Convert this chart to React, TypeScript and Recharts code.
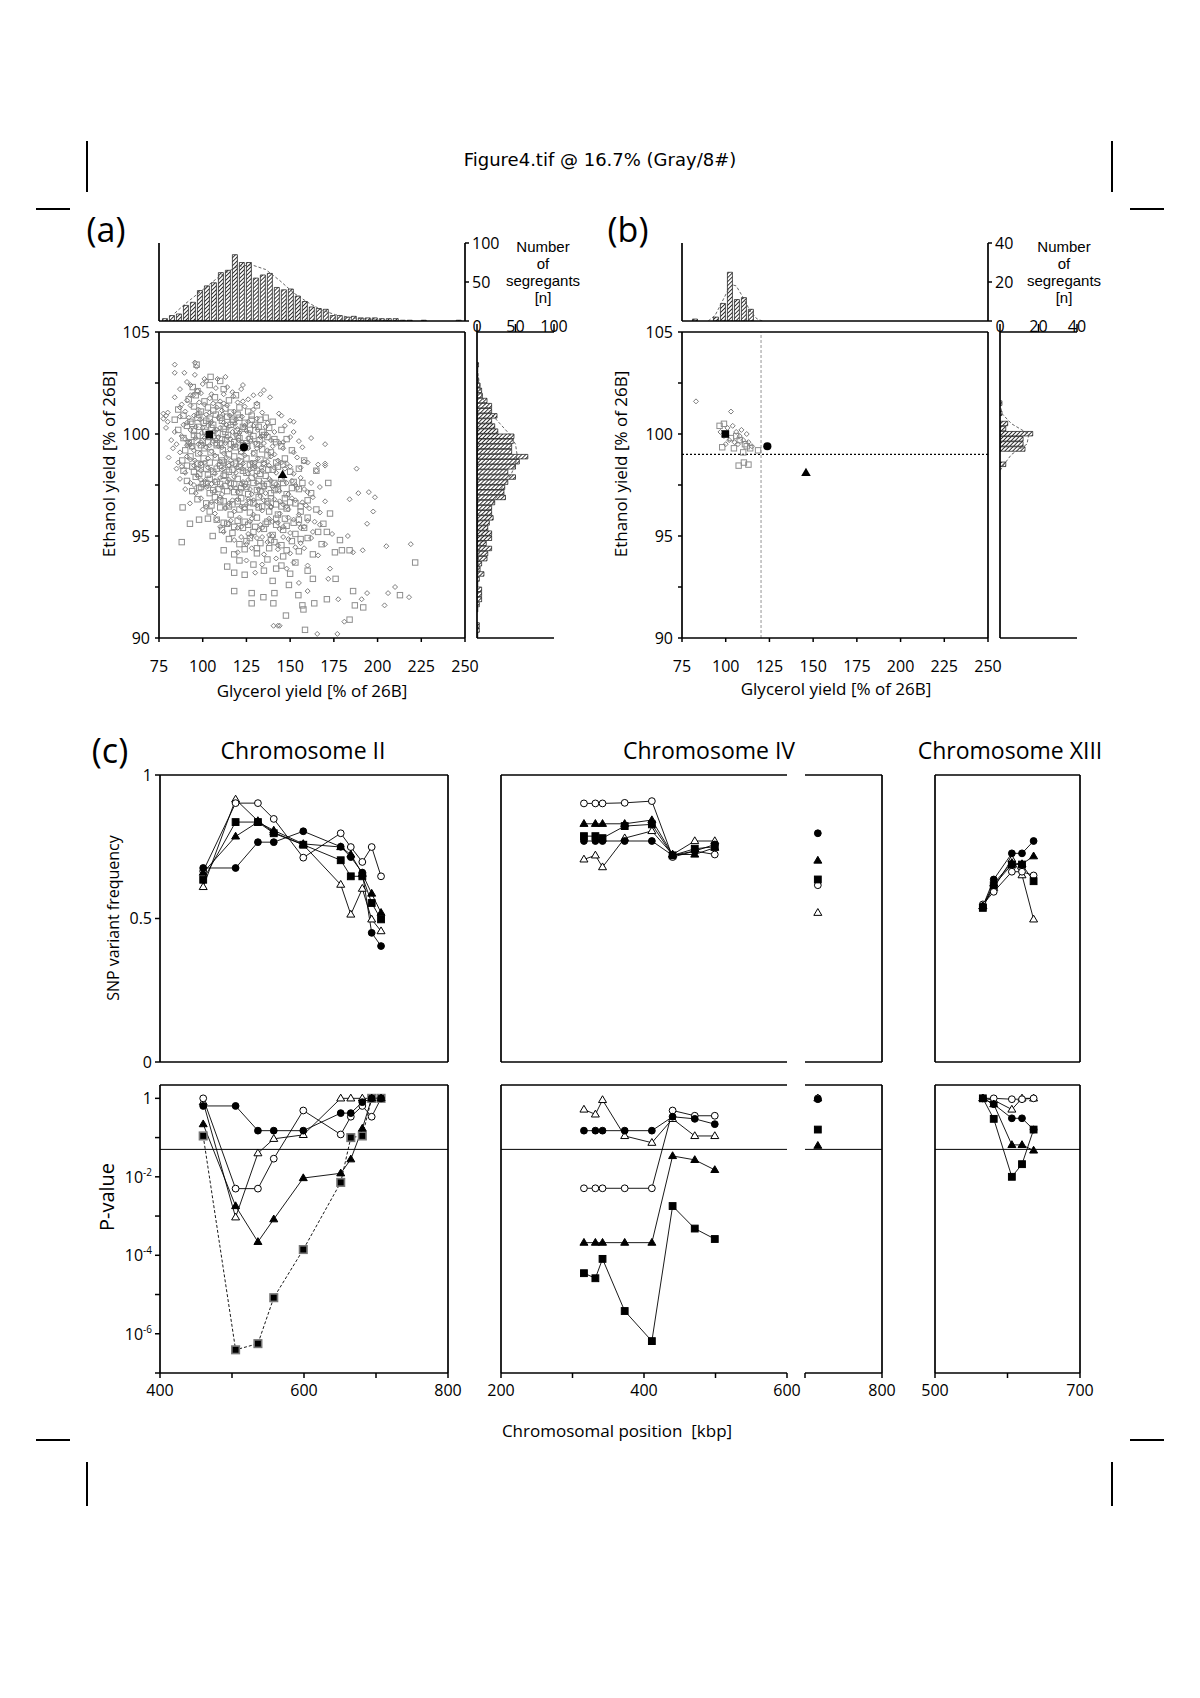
import React from 'react';
import { ComposedChart, Bar, Line, Scatter, XAxis, YAxis, ReferenceLine } from 'recharts';

const FONT = '"Open Sans", "Noto Sans", sans-serif';
const AX = 30;
const LINE = { stroke: '#000', strokeWidth: 1.7 };
const TICKLINE = { stroke: '#000', strokeWidth: 1.5 };

// ---------------- panel (a) / (b) data ----------------
const G_TICKS = [75, 100, 125, 150, 175, 200, 225, 250];
const E_TICKS = [90, 92.5, 95, 97.5, 100, 102.5, 105];

const TOP_A_BINS = [78.4, 82.4, 86.4, 90.4, 94.4, 98.4, 102.4, 106.4, 110.4, 114.4, 118.4, 122.4, 126.4, 130.4, 134.4, 138.4, 142.4, 146.4, 150.4, 154.4, 158.4, 162.4, 166.4, 170.4, 174.4, 178.4, 182.4, 186.4, 190.4, 194.4, 198.4, 202.4, 206.4, 210.4, 214.4, 218.4, 222.4, 226.4, 230.4, 234.4, 238.4, 242.4, 246.4];
const TOP_A_COUNTS = [3, 7, 9, 20, 24, 39, 45, 49, 62, 65, 85, 75, 75, 55, 59, 61, 43, 40, 41, 32, 25, 18, 16, 15, 7, 7, 5, 6, 4, 4, 4, 3, 3, 3, 1, 1, 0, 1, 0, 0, 0, 0, 1];
const TOP_A_FIT_G = [84, 90, 100, 110, 120, 128, 136, 144, 152, 160, 168, 176, 186, 200, 215];
const TOP_A_FIT_N = [10, 22, 40, 58, 70, 72, 66, 52, 36, 24, 14, 8, 4, 1, 0];

const RIGHT_A_BINS = [103.375, 103.125, 102.875, 102.625, 102.375, 102.125, 101.875, 101.625, 101.375, 101.125, 100.875, 100.625, 100.375, 100.125, 99.875, 99.625, 99.375, 99.125, 98.875, 98.625, 98.375, 98.125, 97.875, 97.625, 97.375, 97.125, 96.875, 96.625, 96.375, 96.125, 95.875, 95.625, 95.375, 95.125, 94.875, 94.625, 94.375, 94.125, 93.875, 93.625, 93.375, 93.125, 92.875, 92.625, 92.375, 92.125, 91.875, 91.625, 91.375, 91.125, 90.875, 90.625, 90.375, 90.125];
const RIGHT_A_COUNTS = [2, 1, 1, 2, 4, 6, 7, 13, 19, 19, 26, 19, 23, 27, 48, 47, 45, 45, 66, 55, 50, 40, 50, 40, 36, 35, 37, 23, 19, 19, 21, 16, 14, 19, 19, 12, 19, 14, 13, 6, 4, 9, 3, 1, 6, 6, 6, 3, 1, 0, 0, 3, 3, 1];
const RIGHT_A_FIT_E = [103, 102, 101.5, 101, 100.5, 100, 99.5, 99, 98.5, 98, 97.5, 97, 96.5, 96, 95, 94, 93];
const RIGHT_A_FIT_N = [1, 5, 10, 18, 30, 42, 50, 52, 50, 44, 35, 27, 18, 12, 6, 2, 1];

const TOP_B_BINS = [82.4, 86.4, 90.4, 94.4, 98.4, 102.4, 106.4, 110.4, 114.4, 118.4];
const TOP_B_COUNTS = [1, 0, 0, 2, 9, 25, 11, 12, 6, 0];
const TOP_B_FIT_G = [90, 94, 98, 102, 104, 106, 110, 114, 118, 121];
const TOP_B_FIT_N = [0, 3, 10, 17, 18.5, 18, 12, 5, 1, 0];

const RIGHT_B_BINS = [101.5, 101.0, 100.5, 100.25, 100.0, 99.75, 99.5, 99.25, 98.5];
const RIGHT_B_COUNTS = [1, 1, 4, 3, 17, 12, 12, 13, 3];
const RIGHT_B_FIT_E = [101.5, 101, 100.5, 100, 99.5, 99, 98.5, 98.2];
const RIGHT_B_FIT_N = [0, 1, 6, 15, 14, 6, 2, 0];

// scatter (a): glycerol / ethanol yields of segregants
const SCAT_A_DIAMONDS = [
  [84, 103.4], [95.5, 103.5], [96.5, 103.3], [84, 103.0], [89.5, 103.0],
  [102, 102.6], [108.5, 102.7], [113, 102.8], [95.5, 102.9], [91, 102.55],
  [87, 102.2], [93, 102.4], [97, 102.1], [100, 102.45], [107.5, 102.25], [114, 102.3], [117, 102.05], [122, 102.2], [123, 102.4], [133, 101.95], [135, 102.15],
  [84, 101.8], [91, 101.65], [94.5, 101.9], [98, 101.55], [104, 101.75], [110, 101.6], [117.5, 101.85], [120, 101.55], [126, 101.7], [129, 101.9], [138.5, 101.8],
  [77.5, 101.0], [79, 100.9], [80, 101.05], [87, 101.3], [90, 101.1], [93, 101.4], [97.5, 101.2], [101, 101.45], [104, 101.05], [108, 101.3], [111, 101.15], [114, 101.4], [118, 101.1], [124, 101.35], [129, 101.2], [134, 101.05], [143.6, 101.0], [152, 100.6],
  [77.5, 100.75], [80, 100.6], [87, 100.85], [91, 100.55], [95, 100.9], [98.5, 100.7], [102, 100.95], [105, 100.6], [109, 100.8], [112, 100.55], [115.5, 100.9], [119, 100.7], [122.5, 100.85], [126, 100.6], [131, 100.75], [137, 100.55], [145, 100.9], [150, 100.65],
  [79, 100.3], [84, 100.1], [89, 100.45], [93, 100.2], [96, 100.35], [99.5, 100.05], [103, 100.4], [106.5, 100.15], [110, 100.3], [113.5, 100.45], [117, 100.1], [120, 100.25], [124, 100.4], [127, 100.05], [131.5, 100.2], [136, 100.35], [141, 100.1], [147, 100.4], [152, 100.1],
  [82, 99.7], [88, 99.9], [92, 99.55], [96, 99.8], [99, 99.6], [102, 99.95], [106, 99.65], [109, 99.85], [113, 99.55], [116, 99.75], [119, 99.95], [122.5, 99.6], [126, 99.8], [130, 99.55], [134, 99.9], [139, 99.7], [144, 99.55], [150, 99.85], [155, 99.65], [162, 99.8], [170, 99.5],
  [83, 99.3], [87, 99.1], [91, 99.45], [95, 99.2], [98.5, 99.05], [102, 99.35], [105, 99.15], [109, 99.4], [112, 99.05], [115.5, 99.25], [119, 99.45], [122, 99.1], [126, 99.3], [129, 99.05], [133, 99.4], [137, 99.2], [141, 99.0], [146, 99.3], [152, 99.1], [157, 99.35],
  [80.5, 98.85], [86, 98.6], [91, 98.9], [95.5, 98.7], [99, 98.55], [103, 98.8], [107, 98.95], [110, 98.65], [113.5, 98.85], [117, 98.55], [120.5, 98.75], [124, 98.95], [128, 98.6], [131.5, 98.8], [135, 98.55], [139, 98.9], [143, 98.7], [148, 98.55], [154, 98.85], [158, 98.65], [166, 98.5], [170, 98.55],
  [85, 98.3], [90, 98.1], [95, 98.45], [99, 98.2], [103, 98.35], [107, 98.05], [111, 98.25], [115, 98.45], [119, 98.1], [122.5, 98.3], [126, 98.05], [130, 98.4], [134, 98.2], [138, 98.45], [142, 98.1], [147, 98.3], [152, 98.05], [156, 98.35], [165, 98.2], [170, 98.45], [188, 98.3],
  [87, 97.8], [93, 97.6], [97, 97.95], [101, 97.7], [105, 97.55], [110, 97.85], [114, 97.65], [118, 97.9], [122, 97.55], [126, 97.75], [130, 97.95], [134, 97.6], [138, 97.8], [142, 97.55], [146, 97.9], [151, 97.7], [156, 97.85], [162, 97.6],
  [90, 97.3], [96, 97.1], [102, 97.4], [107, 97.2], [111, 97.05], [116, 97.35], [120, 97.15], [124, 97.45], [128, 97.05], [132, 97.3], [136, 97.1], [140, 97.4], [144, 97.2], [149, 97.05], [154, 97.35], [160, 97.15], [167, 97.4], [189, 97.1], [195, 97.15],
  [92.7, 96.6], [99, 96.85], [105, 96.65], [110, 96.9], [115, 96.6], [120, 96.8], [125, 96.55], [129, 96.75], [133, 96.95], [137, 96.6], [141, 96.8], [146, 96.55], [151, 96.85], [157, 96.65], [163, 96.9], [170, 96.7], [184, 96.8], [198.5, 96.9],
  [100, 96.3], [107, 96.1], [113, 96.4], [118, 96.2], [124, 96.35], [129, 96.05], [134, 96.25], [139, 96.45], [144, 96.1], [149, 96.3], [155, 96.05], [161, 96.35], [167, 96.15], [197.5, 96.2],
  [108, 95.8], [115, 95.6], [121, 95.9], [127, 95.7], [133, 95.55], [138, 95.85], [143, 95.65], [149, 95.9], [155, 95.6], [160, 95.75], [167, 95.55], [194, 95.6],
  [112, 95.2], [120, 95.4], [126, 95.1], [132, 95.3], [138, 95.05], [144, 95.35], [150, 95.15], [156, 95.4], [163, 95.2], [174, 95.1], [183, 95.0],
  [118, 94.8], [125, 94.6], [131, 94.9], [137, 94.7], [143, 94.55], [149, 94.85], [156, 94.65], [162, 94.9], [170, 94.6], [205, 94.5], [219, 94.6],
  [120, 94.2], [128, 94.4], [135, 94.1], [143, 94.35], [150, 94.15], [158, 94.4], [166, 94.05], [186, 94.2], [191.5, 94.3],
  [125, 93.8], [134, 93.6], [142, 93.9], [152, 93.7], [160, 93.55],
  [130, 93.2], [148, 93.4], [172.8, 93.4], [171.8, 92.9],
  [155, 92.7], [210, 92.5],
  [160, 92.3], [194, 92.2], [206, 92.2], [218, 92.0],
  [190.9, 91.9], [204, 91.6], [177.5, 91.9],
  [140.5, 90.6], [143, 90.6], [144, 90.6], [181, 90.8],
  [165.5, 90.2], [177, 90.2],
  // denser core
  [92, 100.8], [97, 101.0], [100, 100.3], [104.5, 100.55], [108, 100.2], [111.5, 100.95], [115, 100.35], [118.5, 100.5], [121, 100.05], [125, 100.15], [129, 100.4], [133, 99.85], [136.5, 100.0],
  [85, 99.5], [90, 99.75], [94, 99.35], [97.5, 99.5], [101, 99.8], [104, 99.45], [107.5, 99.7], [111, 99.35], [114, 99.85], [117.5, 99.4], [120.5, 99.7], [124, 99.25], [127.5, 99.65], [131, 99.3], [135, 99.55], [140, 99.4], [146, 99.6],
  [88, 98.4], [93, 98.75], [97, 98.3], [101, 98.6], [105, 98.25], [109, 98.5], [112, 98.3], [116, 98.7], [119.5, 98.35], [123, 98.55], [127, 98.25], [130, 98.6], [133.5, 98.35], [137, 98.65], [141, 98.35], [145, 98.6], [150, 98.4], [160, 98.6],
  [95, 97.5], [99, 97.75], [103, 97.45], [107, 97.7], [111, 97.4], [115, 97.75], [119, 97.35], [123, 97.65], [127, 97.3], [131, 97.6], [135, 97.35], [139, 97.7], [143, 97.45], [148, 97.6], [153, 97.5], [158, 97.3],
  [102, 96.45], [108, 96.7], [113, 96.35], [117, 96.75], [122, 96.45], [126, 96.8], [131, 96.5], [135, 96.75], [139, 96.4], [144, 96.7], [148, 96.45], [153, 96.75], [159, 96.5],
  [110, 95.45], [116, 95.75], [122, 95.45], [128, 95.85], [134, 95.4], [140, 95.7], [146, 95.45], [152, 95.8], [158, 95.45], [164, 95.7],
  [122, 94.95], [128, 95.0], [134, 94.95], [140, 95.0], [146, 94.95], [153, 94.45],
  [93, 101.9], [99, 102.0], [105, 101.95], [112, 101.95], [101, 102.7], [88, 101.45], [106, 101.5], [112, 101.5], [123, 101.6], [131, 101.5],
];
const SCAT_A_SQUARES = [
  [96.5, 103.4],
  [104.5, 102.8], [110, 102.6],
  [94.3, 102.3], [97, 102.1], [104, 102.4], [112, 102.2],
  [92, 101.7], [96, 101.9], [101, 101.6], [107, 101.8], [115, 101.65], [119, 101.9],
  [86, 101.2], [95, 101.35], [99, 101.1], [103, 101.3], [106, 101.15], [109, 101.4], [113, 101.25], [116, 101.05], [121, 101.3], [126, 101.1], [131, 101.4],
  [84, 100.7], [89, 100.9], [93, 100.6], [97, 100.8], [100.5, 100.55], [104, 100.75], [107.5, 100.95], [111, 100.65], [114, 100.85], [117.5, 100.6], [121, 100.8], [124, 100.55], [128, 100.9], [133, 100.7], [140, 100.6],
  [86, 100.2], [91, 100.4], [95, 100.15], [98, 100.35], [101.5, 100.1], [105, 100.3], [108.5, 100.05], [112, 100.25], [116, 100.45], [119.5, 100.15], [123, 100.35], [127, 100.2], [130, 100.45], [134, 100.1], [138, 100.3], [145, 100.2],
  [89, 99.8], [93.5, 99.6], [97, 99.9], [100, 99.65], [104, 99.85], [108, 99.55], [111, 99.75], [114.5, 99.95], [118, 99.6], [121, 99.8], [125, 99.55], [129, 99.9], [132.5, 99.7], [137, 99.85], [142, 99.6], [148, 99.75],
  [90, 99.2], [94, 99.4], [97.5, 99.05], [101, 99.3], [104.5, 99.1], [108, 99.45], [111.5, 99.2], [115, 99.0], [118.5, 99.35], [122, 99.15], [125.5, 99.4], [129.5, 99.05], [134, 99.25], [139, 99.1], [145, 99.4], [151, 99.2],
  [88.3, 98.7], [93, 98.9], [97, 98.55], [100.5, 98.8], [104, 98.6], [107.5, 98.85], [111, 98.7], [114.5, 98.5], [118, 98.9], [121.5, 98.65], [125, 98.8], [129, 98.55], [133, 98.75], [137, 98.95], [142, 98.6], [147, 98.8], [158, 98.7],
  [89, 98.2], [94, 98.4], [98, 98.05], [102, 98.3], [106, 98.15], [110, 98.45], [113, 98.0], [117, 98.25], [121, 98.4], [125, 98.1], [129, 98.35], [133, 98.05], [137.5, 98.25], [143, 98.4], [150, 98.15], [165, 98.2],
  [91, 97.7], [96, 97.9], [100, 97.55], [104, 97.8], [108, 97.65], [112, 97.95], [116, 97.6], [120, 97.8], [124, 97.55], [128, 97.85], [132, 97.7], [136, 97.95], [141, 97.6], [145, 97.8], [152, 97.65], [171.8, 97.6],
  [94, 97.2], [99, 97.4], [104, 97.1], [109, 97.3], [113, 97.45], [118, 97.15], [122, 97.35], [126, 97.05], [131, 97.25], [135, 97.45], [139, 97.1], [143, 97.3], [148, 97.05], [155, 97.3], [162, 97.1],
  [97, 96.8], [102, 96.6], [107, 96.9], [112, 96.7], [117, 96.55], [122, 96.85], [127, 96.65], [132, 96.9], [137, 96.7], [142, 96.55], [147, 96.85], [153, 96.6], [160, 96.75],
  [88.5, 96.4], [104, 96.2], [110, 96.4], [116, 96.05], [121, 96.3], [127, 96.15], [132, 96.4], [138, 96.2], [143, 96.05], [148, 96.35], [156, 96.2], [165, 96.3], [172.8, 96.1],
  [92.7, 95.6], [97.9, 95.8], [103, 95.85], [108, 95.8], [114, 95.6], [120, 95.75], [126, 95.55], [131, 95.9], [137, 95.7], [142, 95.55], [147, 95.85], [152, 95.65], [160, 95.9], [169, 95.6],
  [105.7, 95.0], [111, 95.3], [117, 95.15], [123, 95.4], [129, 95.2], [135, 95.35], [140, 95.05], [146, 95.3], [153, 95.1], [158, 95.4], [166, 95.2], [171, 95.2],
  [88, 94.7], [115, 94.85], [121, 94.6], [127, 94.9], [133, 94.65], [139, 94.8], [145, 94.55], [151, 94.75], [160, 94.9], [168, 94.6], [178.5, 94.8],
  [112, 94.3], [118, 94.1], [124, 94.35], [131, 94.15], [138, 94.4], [146, 94.0], [155, 94.25], [163, 94.1], [175.6, 94.2], [179.6, 94.3], [184, 94.3],
  [114, 93.5], [121, 93.8], [129, 93.6], [137, 93.85], [145, 93.55], [153, 93.7],
  [118, 93.2], [124, 93.1], [135, 93.3], [142, 93.4], [150, 93.15], [160, 93.3],
  [140, 92.8], [149.3, 92.6], [163, 92.9], [176, 92.9],
  [118, 92.3], [128, 92.2], [134.7, 92.0], [141, 92.2], [154.7, 92.1], [171, 91.9], [186, 92.3], [212.8, 92.1], [221.5, 93.7],
  [128, 91.7], [140.4, 91.7], [157, 91.6], [163.8, 91.7], [187, 91.6], [191.8, 91.5],
  [147.6, 91.1], [157.6, 91.4], [184, 90.9],
  [158.5, 90.4],
  // denser core
  [94, 100.5], [98, 100.95], [102, 100.65], [106, 100.45], [110, 100.8], [113, 100.1], [117, 100.7], [120, 100.95], [124, 100.25], [128, 100.7], [132, 100.35], [136, 100.8],
  [92, 99.55], [95, 99.95], [99, 99.45], [103, 99.6], [106, 99.9], [110, 99.55], [113, 99.7], [116, 99.5], [120, 99.9], [123, 99.45], [127, 99.75], [131, 99.5], [135, 99.95], [141, 99.75],
  [91, 98.45], [95, 98.15], [99, 98.5], [103, 98.0], [108, 98.3], [112, 98.6], [115, 98.15], [119, 98.55], [123, 98.2], [127, 98.5], [131, 98.2], [135, 98.55], [140, 98.25], [146, 98.5], [155, 98.3],
  [98, 97.35], [102, 97.6], [106, 97.25], [110, 97.55], [114, 97.2], [118, 97.55], [121, 97.15], [125, 97.4], [129, 97.6], [133, 97.2], [137, 97.55], [141, 97.25], [146, 97.6], [151, 97.35], [157, 97.6],
  [105, 96.5], [110, 96.75], [115, 96.45], [120, 96.7], [124, 96.4], [129, 96.6], [134, 96.45], [139, 96.85], [145, 96.45], [150, 96.65], [156, 96.45],
  [112, 95.65], [118, 95.45], [124, 95.7], [130, 95.45], [136, 95.6], [142, 95.85], [148, 95.5], [155, 95.8],
  [125, 94.75], [131, 94.4], [141, 94.7], [148, 94.3], [156, 94.85],
];
const SCAT_B_DIAMONDS = [
  [83, 101.6], [103, 101.1], [97, 100.1], [101, 100.3], [104, 100.4], [106, 100.1], [108, 99.9], [110, 99.7], [112, 100.0],
  [105, 99.6], [102, 99.7], [99, 99.9], [107, 99.5], [113, 99.6], [100, 99.5], [115, 99.4], [109, 100.2],
];
const SCAT_B_SQUARES = [
  [96.5, 100.4], [99, 100.5], [98, 99.35], [104.7, 99.3], [110, 99.1], [118.5, 99.2], [112, 99.4], [107.4, 98.45],
  [110.4, 98.6], [113, 98.5], [103, 99.8], [106, 99.9], [108, 99.7], [111, 99.5], [114, 99.3],
];
// parental strains: square, circle, triangle
const PARENT_A = [[103.8, 99.97], [123.6, 99.35], [145.7, 98.0]];
const PARENT_B = [[99.8, 100.0], [123.8, 99.4], [145.9, 98.1]];
const B_CUT_GLYCEROL = 120.2;
const B_CUT_ETHANOL = 99.0;

// ---------------- panel (c) data ----------------
// series: OT open triangle, OC open circle, FS filled square, FT filled triangle, FC filled circle
const II_POS = [460, 505, 536, 558, 599, 651, 665, 681, 694, 707];
const II_FREQ_OT = [0.61, 0.915, 0.84, 0.8, 0.757, 0.618, 0.514, 0.604, 0.497, 0.456];
const II_FREQ_OC = [0.665, 0.902, 0.902, 0.847, 0.712, 0.797, 0.749, 0.697, 0.749, 0.647];
const II_FREQ_FS = [0.635, 0.836, 0.836, 0.797, 0.757, 0.703, 0.647, 0.647, 0.554, 0.497];
const II_FREQ_FT = [0.66, 0.786, 0.836, 0.807, 0.76, 0.749, 0.723, 0.656, 0.587, 0.52];
const II_FREQ_FC = [0.676, 0.676, 0.766, 0.766, 0.804, 0.75, 0.714, 0.66, 0.45, 0.404];
const II_P_OT = [0.8, 0.00093, 0.04, 0.093, 0.117, 1, 1, 1, 1, 1];
const II_P_OC = [1, 0.005, 0.005, 0.029, 0.49, 0.12, 0.34, 0.64, 0.34, 1];
const II_P_FS = [0.11, 3.9e-7, 5.6e-7, 8.3e-6, 1.4e-4, 0.0072, 0.1, 0.11, 1, 1];
const II_P_FT = [0.22, 0.0018, 0.00022, 0.00083, 0.0093, 0.0123, 0.028, 0.17, 1, 1];
const II_P_FC = [0.64, 0.64, 0.15, 0.15, 0.15, 0.42, 0.42, 0.8, 1, 1];

const IV_POS = [316, 332, 342, 373, 411, 440, 471, 499];
const IV_FREQ_OT = [0.706, 0.72, 0.679, 0.78, 0.805, 0.723, 0.77, 0.77];
const IV_FREQ_OC = [0.901, 0.901, 0.901, 0.903, 0.909, 0.714, 0.735, 0.723];
const IV_FREQ_FS = [0.787, 0.787, 0.78, 0.822, 0.828, 0.72, 0.743, 0.75];
const IV_FREQ_FT = [0.83, 0.83, 0.83, 0.83, 0.843, 0.723, 0.723, 0.747];
const IV_FREQ_FC = [0.77, 0.77, 0.77, 0.77, 0.77, 0.72, 0.735, 0.758];
const IV_P_OT = [0.52, 0.39, 0.91, 0.11, 0.074, 0.3, 0.11, 0.11];
const IV_P_OC = [0.0051, 0.0051, 0.0051, 0.0051, 0.0051, 0.49, 0.36, 0.36];
const IV_P_FS = [3.5e-5, 2.6e-5, 8.1e-5, 3.8e-6, 6.5e-7, 0.0018, 4.8e-4, 2.6e-4];
const IV_P_FT = [2.1e-4, 2.1e-4, 2.1e-4, 2.1e-4, 2.1e-4, 0.034, 0.027, 0.015];
const IV_P_FC = [0.15, 0.15, 0.15, 0.15, 0.15, 0.34, 0.3, 0.22];

const IV2_POS = [710];
const IV2_FREQ_OT = [0.52];
const IV2_FREQ_OC = [0.616];
const IV2_FREQ_FS = [0.636];
const IV2_FREQ_FT = [0.702];
const IV2_FREQ_FC = [0.797];
const IV2_P_OT = [1];
const IV2_P_OC = [1];
const IV2_P_FS = [0.16];
const IV2_P_FT = [0.062];
const IV2_P_FC = [0.95];

const XIII_POS = [566, 581, 606, 620, 636];
const XIII_FREQ_OT = [0.543, 0.607, 0.706, 0.651, 0.497];
const XIII_FREQ_OC = [0.549, 0.593, 0.663, 0.663, 0.65];
const XIII_FREQ_FS = [0.537, 0.616, 0.688, 0.688, 0.63];
const XIII_FREQ_FT = [0.543, 0.622, 0.694, 0.69, 0.717];
const XIII_FREQ_FC = [0.543, 0.636, 0.727, 0.727, 0.77];
const XIII_P_OT = [1, 0.9, 0.52, 1, 1];
const XIII_P_OC = [1, 1, 0.95, 0.95, 1];
const XIII_P_FS = [1, 0.3, 0.01, 0.021, 0.16];
const XIII_P_FT = [1, 0.71, 0.065, 0.065, 0.047];
const XIII_P_FC = [1, 0.71, 0.31, 0.31, 0.16];

const P_THRESHOLD = 0.05;
const P_TICKS = [-7, -6, -5, -4, -3, -2, -1, 0];
const FREQ_TICKS = [0, 0.5, 1];
const SEG_LINES = ['Number', 'of', 'segregants', '[n]'];

// ---------------- tables ----------------
const zipGN = (g: number[], n: number[]) => g.map((x, i) => ({ x, n: n[i] }));
const zipEN = (e: number[], n: number[]) => e.map((v, i) => ({ e: v, n: n[i] }));
const toXY = (a: number[][]) => a.map(([x, y]) => ({ x, y }));
const pts = (xs: number[], ys: number[]) => xs.map((x, i) => ({ x, y: ys[i] }));
const ptsLog = (xs: number[], ps: number[]) => xs.map((x, i) => ({ x, y: Math.log10(ps[i]) }));

// ---------------- helpers ----------------
type AxOpt = {
  line?: boolean;
  ticks?: number[];
  tickSize?: number;
  labels?: boolean | ((v: number) => string);
  tickMargin?: number;
  fontSize?: number;
  tick?: any;
  dataKey?: string;
  reversed?: boolean;
};

function tickProp(o: AxOpt) {
  if (o.tick) return o.tick;
  if (o.labels) return { fontSize: o.fontSize ?? 16, fill: '#000', fontFamily: FONT };
  return false;
}

function makeX(id: string | number, orientation: 'top' | 'bottom', domain: [number, number], o: AxOpt = {}) {
  return (
    <XAxis
      key={'x' + id}
      xAxisId={id}
      orientation={orientation}
      type="number"
      dataKey={o.dataKey}
      domain={domain}
      allowDataOverflow
      ticks={o.ticks ?? domain}
      interval={0}
      height={AX}
      axisLine={o.line === false ? false : LINE}
      tickLine={o.tickSize ? TICKLINE : false}
      tickSize={o.tickSize ?? 0}
      tick={tickProp(o)}
      tickMargin={o.tickMargin ?? 2}
      tickFormatter={typeof o.labels === 'function' ? o.labels : undefined}
    />
  );
}

function makeY(id: string | number, orientation: 'left' | 'right', domain: [number, number], o: AxOpt = {}) {
  return (
    <YAxis
      key={'y' + id}
      yAxisId={id}
      orientation={orientation}
      type="number"
      dataKey={o.dataKey}
      domain={domain}
      allowDataOverflow
      reversed={o.reversed}
      ticks={o.ticks ?? domain}
      interval={0}
      width={AX}
      axisLine={o.line === false ? false : LINE}
      tickLine={o.tickSize ? TICKLINE : false}
      tickSize={o.tickSize ?? 0}
      tick={tickProp(o)}
      tickMargin={o.tickMargin ?? 2}
      tickFormatter={typeof o.labels === 'function' ? o.labels : undefined}
    />
  );
}

type Pad = { l: number; r: number; t: number; b: number };
const PAD: Pad = { l: 48, r: 40, t: 40, b: 48 };

function Chart({ x, y, w, h, pad = PAD, layout, data, children }: any) {
  const W = w + pad.l + pad.r;
  const H = h + pad.t + pad.b;
  return (
    <div style={{ position: 'absolute', left: x - pad.l, top: y - pad.t, width: W, height: H }}>
      <ComposedChart
        width={W}
        height={H}
        data={data}
        layout={layout}
        margin={{ top: pad.t - AX, right: pad.r - AX, bottom: pad.b - AX, left: pad.l - AX }}
      >
        {children}
      </ComposedChart>
    </div>
  );
}

function T({ x, y, size, children, rot, family }: any) {
  return (
    <div
      style={{
        position: 'absolute',
        left: x,
        top: y,
        transform: `translate(-50%,-50%)${rot ? ` rotate(${rot}deg)` : ''}`,
        fontSize: size,
        fontFamily: family ?? FONT,
        whiteSpace: 'nowrap',
        lineHeight: 1,
        color: '#000',
      }}
    >
      {children}
    </div>
  );
}

function Bx({ x, y, w, h }: any) {
  return <div style={{ position: 'absolute', left: x, top: y, width: w, height: h, background: '#000' }} />;
}

// markers
function marker(kind: string, cx: number, cy: number, open: boolean, stroke = '#000', scale = 1) {
  const fill = open ? '#fff' : '#000';
  if (kind === 'circ') return <circle cx={cx} cy={cy} r={3.4 * scale} fill={fill} stroke="#000" strokeWidth={1} />;
  if (kind === 'sq') {
    const s = 3.4 * scale;
    return <rect x={cx - s} y={cy - s} width={2 * s} height={2 * s} fill={fill} stroke={stroke} strokeWidth={stroke === '#000' ? 1 : 1.6} />;
  }
  const s = 4.2 * scale;
  return <path d={`M${cx},${cy - s}L${cx + s * 0.95},${cy + s * 0.62}L${cx - s * 0.95},${cy + s * 0.62}Z`} fill={fill} stroke="#000" strokeWidth={1} />;
}

const diamondShape = (p: any) => {
  const { cx, cy } = p;
  const s = 2.5;
  return <path d={`M${cx},${cy - s}L${cx + s},${cy}L${cx},${cy + s}L${cx - s},${cy}Z`} fill="none" stroke="#7d7d7d" strokeWidth={1} />;
};
const squareShape = (p: any) => {
  const { cx, cy } = p;
  const s = 2.7;
  return <rect x={cx - s} y={cy - s} width={2 * s} height={2 * s} fill="none" stroke="#8e8e8e" strokeWidth={1} />;
};
const parentShape = (kind: string) => (p: any) => {
  const { cx, cy } = p;
  if (kind === 'sq') return <rect x={cx - 3.8} y={cy - 3.8} width={7.6} height={7.6} fill="#000" />;
  if (kind === 'circ') return <circle cx={cx} cy={cy} r={4.1} fill="#000" />;
  return <path d={`M${cx},${cy - 5}L${cx + 4.8},${cy + 3.3}L${cx - 4.8},${cy + 3.3}Z`} fill="#000" />;
};

const SERIES_STYLE = [
  { k: 'OT', kind: 'tri', open: true },
  { k: 'OC', kind: 'circ', open: true },
  { k: 'FS', kind: 'sq', open: false },
  { k: 'FT', kind: 'tri', open: false },
  { k: 'FC', kind: 'circ', open: false },
];

function seriesLines(tag: string, set: Record<string, { x: number; y: number }[]>, dashedSquare = false) {
  return SERIES_STYLE.map((s) => {
    const isDash = dashedSquare && s.k === 'FS';
    return (
      <Line
        key={tag + s.k}
        data={set[s.k]}
        dataKey="y"
        stroke="#000"
        strokeWidth={0.9}
        strokeDasharray={isDash ? '3 2' : undefined}
        isAnimationActive={false}
        activeDot={false}
        dot={(p: any) => (
          <g key={`${tag}${s.k}${p.index}`}>{marker(s.kind, p.cx, p.cy, s.open, isDash ? '#777' : '#000', isDash ? 1.1 : 1)}</g>
        )}
      />
    );
  });
}

const mkSet = (xs: number[], a: number[], b: number[], c: number[], d: number[], e: number[], log: boolean) => {
  const f = log ? ptsLog : pts;
  return { OT: f(xs, a), OC: f(xs, b), FS: f(xs, c), FT: f(xs, d), FC: f(xs, e) };
};

const II_F = mkSet(II_POS, II_FREQ_OT, II_FREQ_OC, II_FREQ_FS, II_FREQ_FT, II_FREQ_FC, false);
const II_P = mkSet(II_POS, II_P_OT, II_P_OC, II_P_FS, II_P_FT, II_P_FC, true);
const IV_F = mkSet(IV_POS, IV_FREQ_OT, IV_FREQ_OC, IV_FREQ_FS, IV_FREQ_FT, IV_FREQ_FC, false);
const IV_P = mkSet(IV_POS, IV_P_OT, IV_P_OC, IV_P_FS, IV_P_FT, IV_P_FC, true);
const IV2_F = mkSet(IV2_POS, IV2_FREQ_OT, IV2_FREQ_OC, IV2_FREQ_FS, IV2_FREQ_FT, IV2_FREQ_FC, false);
const IV2_P = mkSet(IV2_POS, IV2_P_OT, IV2_P_OC, IV2_P_FS, IV2_P_FT, IV2_P_FC, true);
const XIII_F = mkSet(XIII_POS, XIII_FREQ_OT, XIII_FREQ_OC, XIII_FREQ_FS, XIII_FREQ_FT, XIII_FREQ_FC, false);
const XIII_P = mkSet(XIII_POS, XIII_P_OT, XIII_P_OC, XIII_P_FS, XIII_P_FT, XIII_P_FC, true);

const fmtE = (v: number) => (v % 5 === 0 ? String(v) : '');
const fmtFreq = (v: number) => (v === 0.5 ? '0.5' : String(v));
const fmtNoZero = (v: number) => (v === 0 ? '' : String(v));

const PTick = (p: any) => {
  const v = p.payload.value;
  if (v === 0)
    return (
      <text x={p.x} y={p.y} dy={6} textAnchor="end" fontSize={16} fontFamily={FONT} fill="#000">
        1
      </text>
    );
  if (v === -2 || v === -4 || v === -6)
    return (
      <text x={p.x} y={p.y} dy={6} textAnchor="end" fontSize={16} fontFamily={FONT} fill="#000">
        10
        <tspan fontSize={10} dy={-7}>
          {String(v)}
        </tspan>
      </text>
    );
  return <g />;
};

// ---------------- panels ----------------
function TopHist({ x, w, max, ticks, bins, counts, fitG, fitN }: any) {
  return (
    <Chart x={x} y={243} w={w} h={78} data={zipGN(bins, counts)}>
      {makeX(0, 'bottom', [75, 250], { dataKey: 'x', ticks: [75, 250] })}
      {makeX('t', 'top', [75, 250], { line: false, dataKey: 'x' })}
      {makeY(0, 'left', [0, max], { ticks, tickSize: -5 })}
      {makeY('r', 'right', [0, max], { ticks, tickSize: 4, labels: fmtNoZero, fontSize: 16, tickMargin: 3 })}
      <Bar dataKey="n" barSize={5} fill="url(#hatch)" stroke="#111" strokeWidth={0.7} isAnimationActive={false} />
      <Line xAxisId="t" data={zipGN(fitG, fitN)} dataKey="n" stroke="#555" strokeWidth={0.9} strokeDasharray="3 2" dot={false} activeDot={false} isAnimationActive={false} />
    </Chart>
  );
}

function RightHist({ x, max, ticks, bins, counts, fitE, fitN }: any) {
  return (
    <Chart x={x} y={332} w={77} h={306} layout="vertical" data={zipEN(bins, counts)}>
      {makeX(0, 'bottom', [0, max], { ticks, tickSize: -5 })}
      {makeX('t', 'top', [0, max], { ticks, tickSize: 8, labels: true, fontSize: 16, tickMargin: -8 })}
      {makeY(0, 'left', [90, 105], { dataKey: 'e', ticks: [90, 105], reversed: true })}
      {makeY('r', 'right', [90, 105], { line: false, dataKey: 'e', reversed: true })}
      <Bar dataKey="n" barSize={4.5} fill="url(#hatch)" stroke="#111" strokeWidth={0.7} isAnimationActive={false} />
      <Line yAxisId="r" data={zipEN(fitE, fitN)} dataKey="n" stroke="#555" strokeWidth={0.9} strokeDasharray="3 2" dot={false} activeDot={false} isAnimationActive={false} />
    </Chart>
  );
}

function ScatterPanel({ x, diamonds, squares, parents, cuts }: any) {
  return (
    <Chart x={x} y={332} w={306} h={306}>
      {makeX(0, 'bottom', [75, 250], { dataKey: 'x', ticks: G_TICKS, tickSize: 4, labels: true, fontSize: 16, tickMargin: 19 })}
      {makeX('t', 'top', [75, 250], { ticks: G_TICKS, tickSize: 7 })}
      {makeY(0, 'left', [90, 105], { dataKey: 'y', ticks: E_TICKS, tickSize: 4, labels: fmtE, fontSize: 16, tickMargin: 5 })}
      {makeY('r', 'right', [90, 105], { ticks: E_TICKS, tickSize: 4 })}
      {cuts ? <ReferenceLine x={B_CUT_GLYCEROL} stroke="#888" strokeWidth={0.9} strokeDasharray="3 2" /> : null}
      {cuts ? <ReferenceLine y={B_CUT_ETHANOL} stroke="#000" strokeWidth={1.1} strokeDasharray="2 2" /> : null}
      <Scatter data={toXY(squares)} shape={squareShape} isAnimationActive={false} />
      <Scatter data={toXY(diamonds)} shape={diamondShape} isAnimationActive={false} />
      <Scatter data={toXY([parents[0]])} shape={parentShape('sq')} isAnimationActive={false} />
      <Scatter data={toXY([parents[1]])} shape={parentShape('circ')} isAnimationActive={false} />
      <Scatter data={toXY([parents[2]])} shape={parentShape('tri')} isAnimationActive={false} />
    </Chart>
  );
}

function FreqChart({ x, w, domain, xticks, left, right, set, tag, labels }: any) {
  return (
    <Chart x={x} y={775} w={w} h={287}>
      {makeX(0, 'bottom', domain, { dataKey: 'x', ticks: xticks, tickSize: 5 })}
      {makeX('t', 'top', domain, { ticks: xticks, tickSize: 5 })}
      {left
        ? makeY(0, 'left', [0, 1], { ticks: FREQ_TICKS, tickSize: 5, labels: labels ? fmtFreq : false, fontSize: 16, tickMargin: 3 })
        : makeY(0, 'left', [0, 1], { line: false })}
      {right ? makeY('r', 'right', [0, 1], { ticks: FREQ_TICKS, tickSize: 5 }) : makeY('r', 'right', [0, 1], { line: false })}
      {seriesLines(tag, set)}
    </Chart>
  );
}

function PChart({ x, w, domain, xticks, xfmt, left, right, set, tag, labels, dashed }: any) {
  return (
    <Chart x={x} y={1085} w={w} h={288}>
      {makeX(0, 'bottom', domain, { dataKey: 'x', ticks: xticks, tickSize: 5, labels: xfmt, fontSize: 16, tickMargin: 7 })}
      {makeX('t', 'top', domain, { ticks: xticks, tickSize: 5 })}
      {left
        ? makeY(0, 'left', [-7, 0.34], { ticks: P_TICKS, tickSize: 5, tick: labels ? PTick : false, tickMargin: 3 })
        : makeY(0, 'left', [-7, 0.34], { line: false })}
      {right ? makeY('r', 'right', [-7, 0.34], { ticks: P_TICKS, tickSize: 5 }) : makeY('r', 'right', [-7, 0.34], { line: false })}
      <ReferenceLine y={Math.log10(P_THRESHOLD)} stroke="#000" strokeWidth={1} />
      {seriesLines(tag, set, dashed)}
    </Chart>
  );
}

function SegLabel({ x }: { x: number }) {
  return (
    <>
      {SEG_LINES.map((s, i) => (
        <T key={s} x={x} y={246 + i * 17} size={15} family={'"Liberation Sans", Arial, sans-serif'}>
          {s}
        </T>
      ))}
    </>
  );
}

export default function App() {
  return (
    <div style={{ position: 'absolute', left: 0, top: 0, width: 1200, height: 1698, background: '#fff', fontFamily: FONT, overflow: 'hidden' }}>
      <svg width={0} height={0} style={{ position: 'absolute' }}>
        <defs>
          <pattern id="hatch" patternUnits="userSpaceOnUse" width={2.8} height={2.8} patternTransform="rotate(45)">
            <rect width={2.8} height={2.8} fill="#fff" />
            <line x1={1.4} y1={0} x2={1.4} y2={2.8} stroke="#222" strokeWidth={0.9} />
          </pattern>
        </defs>
      </svg>

      {/* crop marks */}
      <Bx x={86} y={141} w={2} h={51} />
      <Bx x={1111} y={141} w={2} h={51} />
      <Bx x={36} y={208} w={34} h={2} />
      <Bx x={1130} y={208} w={34} h={2} />
      <Bx x={36} y={1439} w={34} h={2} />
      <Bx x={1130} y={1439} w={34} h={2} />
      <Bx x={86} y={1462} w={2} h={44} />
      <Bx x={1111} y={1462} w={2} h={44} />

      <T x={600} y={160} size={18} family={'"DejaVu Sans", "Liberation Sans", sans-serif'}>
        Figure4.tif @ 16.7% (Gray/8#)
      </T>

      {/* panel labels */}
      <T x={106} y={229} size={34}>(a)</T>
      <T x={628} y={229} size={34}>(b)</T>
      <T x={110} y={750} size={34}>(c)</T>

      {/* ---- panel (a) ---- */}
      <TopHist x={159} w={306} max={100} ticks={[0, 50, 100]} bins={TOP_A_BINS} counts={TOP_A_COUNTS} fitG={TOP_A_FIT_G} fitN={TOP_A_FIT_N} />
      <ScatterPanel x={159} diamonds={SCAT_A_DIAMONDS} squares={SCAT_A_SQUARES} parents={PARENT_A} cuts={false} />
      <RightHist x={477} max={100} ticks={[0, 50, 100]} bins={RIGHT_A_BINS} counts={RIGHT_A_COUNTS} fitE={RIGHT_A_FIT_E} fitN={RIGHT_A_FIT_N} />
      <SegLabel x={543} />
      <T x={108} y={464} size={17} rot={-90}>Ethanol yield [% of 26B]</T>
      <T x={312} y={690} size={17}>Glycerol yield [% of 26B]</T>

      {/* ---- panel (b) ---- */}
      <TopHist x={682} w={306} max={40} ticks={[0, 20, 40]} bins={TOP_B_BINS} counts={TOP_B_COUNTS} fitG={TOP_B_FIT_G} fitN={TOP_B_FIT_N} />
      <ScatterPanel x={682} diamonds={SCAT_B_DIAMONDS} squares={SCAT_B_SQUARES} parents={PARENT_B} cuts={true} />
      <RightHist x={1000} max={40} ticks={[0, 20, 40]} bins={RIGHT_B_BINS} counts={RIGHT_B_COUNTS} fitE={RIGHT_B_FIT_E} fitN={RIGHT_B_FIT_N} />
      <SegLabel x={1064} />
      <T x={620} y={464} size={17} rot={-90}>Ethanol yield [% of 26B]</T>
      <T x={836} y={688} size={17}>Glycerol yield [% of 26B]</T>

      {/* ---- panel (c) ---- */}
      <T x={303} y={750} size={23}>Chromosome II</T>
      <T x={709} y={750} size={23}>Chromosome IV</T>
      <T x={1010} y={750} size={23}>Chromosome XIII</T>

      <FreqChart x={160} w={288} domain={[400, 800]} xticks={[400, 500, 600, 700, 800]} left right set={II_F} tag="IIf" labels />
      <FreqChart x={501} w={286} domain={[200, 600]} xticks={[200, 300, 400, 500, 600]} left right={false} set={IV_F} tag="IVf" />
      <FreqChart x={805} w={77} domain={[692, 800]} xticks={[692, 800]} left={false} right set={IV2_F} tag="IV2f" />
      <FreqChart x={935} w={145} domain={[500, 700]} xticks={[500, 600, 700]} left right set={XIII_F} tag="XIIIf" />

      <PChart x={160} w={288} domain={[400, 800]} xticks={[400, 500, 600, 700, 800]} xfmt={(v: number) => (v % 200 === 0 ? String(v) : '')} left right set={II_P} tag="IIp" labels dashed />
      <PChart x={501} w={286} domain={[200, 600]} xticks={[200, 300, 400, 500, 600]} xfmt={(v: number) => (v % 200 === 0 ? String(v) : '')} left right={false} set={IV_P} tag="IVp" />
      <PChart x={805} w={77} domain={[692, 800]} xticks={[692, 800]} xfmt={(v: number) => (v === 800 ? '800' : '')} left={false} right set={IV2_P} tag="IV2p" />
      <PChart x={935} w={145} domain={[500, 700]} xticks={[500, 600, 700]} xfmt={(v: number) => (v === 600 ? '' : String(v))} left right set={XIII_P} tag="XIIIp" />

      <T x={113} y={918} size={16} rot={-90}>SNP variant frequency</T>
      <T x={107} y={1197} size={20} rot={-90}>P-value</T>
      <T x={617} y={1430} size={17}>Chromosomal position&nbsp;&nbsp;[kbp]</T>
    </div>
  );
}
